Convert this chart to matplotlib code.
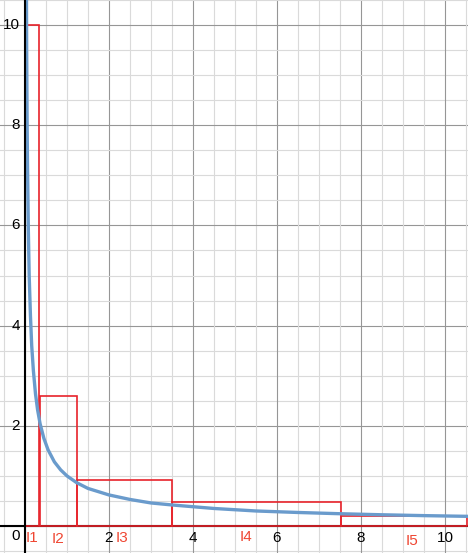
import numpy as np
import matplotlib
matplotlib.use('Agg')
import matplotlib.pyplot as plt
from matplotlib.patches import Rectangle

# curve points
curve_x = [0.03, 0.04, 0.05, 0.06, 0.08, 0.10, 0.13, 0.16, 0.20, 0.25, 0.30,
           0.36, 0.45, 0.55, 0.70, 0.85, 1.0, 1.23, 1.5, 2.0, 2.5, 3.0, 3.5,
           4.5, 5.5, 6.5, 7.5, 8.5, 9.5, 10.6]
curve_y = [11.6, 9.5, 8.1, 7.2, 5.9, 5.0, 4.2, 3.6, 3.1, 2.64, 2.32,
           2.04, 1.75, 1.52, 1.28, 1.12, 1.0, 0.865, 0.75, 0.62, 0.53, 0.46, 0.42,
           0.35, 0.30, 0.27, 0.245, 0.224, 0.207, 0.192]

# rectangles I1..I5
rect_left = [0.0, 0.365, 1.23, 3.49, 7.52]
rect_right = [0.335, 1.23, 3.49, 7.52, 10.52]
rect_height = [10.0, 2.6, 0.92, 0.47, 0.205]
rect_labels = ['I1', 'I2', 'I3', 'I4', 'I5']
label_x = [0.16, 0.79, 2.31, 5.26, 9.21]
label_y = [-0.23, -0.26, -0.24, -0.22, -0.29]

x_ticks = [2, 4, 6, 8, 10]
y_ticks = [2, 4, 6, 8, 10]

plt.rcParams['font.family'] = ['Liberation Sans', 'DejaVu Sans']

fig = plt.figure(figsize=(4.68, 5.53), dpi=100)
ax = fig.add_axes([0, 0, 1, 1])
ax.set_xlim(-0.595, 10.55)
ax.set_ylim(-0.539, 10.5)
for s in ax.spines.values():
    s.set_visible(False)

# grid: minor every 0.5, major every 2
for v in np.arange(-0.5, 11, 0.5):
    major = abs(v / 2 - round(v / 2)) < 1e-9
    ax.axvline(v, color='#969696' if major else '#dadada', lw=0.8, zorder=0)
    ax.axhline(v, color='#969696' if major else '#dadada', lw=0.8, zorder=0)
ax.set_xticks([])
ax.set_yticks([])

# axes
ax.axhline(0, color='black', lw=1.5, zorder=1)
ax.axvline(0, color='black', lw=1.5, zorder=4)

for l, r, h in zip(rect_left, rect_right, rect_height):
    ax.add_patch(Rectangle((l, 0), r - l, h, fill=False, edgecolor='#e8232b',
                           lw=1.2, zorder=2))

ax.plot(curve_x, curve_y, color='#6a9bcc', lw=2.4, zorder=3,
        solid_capstyle='round')

for lab, lx, ly in zip(rect_labels, label_x, label_y):
    ax.text(lx, ly, lab, color='#ef4632', fontsize=11, ha='center', va='center')

for t in x_ticks:
    ax.text(t, -0.24, str(t), fontsize=11, ha='center', va='center')
for t in y_ticks:
    ax.text(-0.12, t, str(t), fontsize=11, ha='right', va='center')
ax.text(-0.23, -0.2, '0', fontsize=11, ha='center', va='center')

fig.savefig('out.png', dpi=100)
